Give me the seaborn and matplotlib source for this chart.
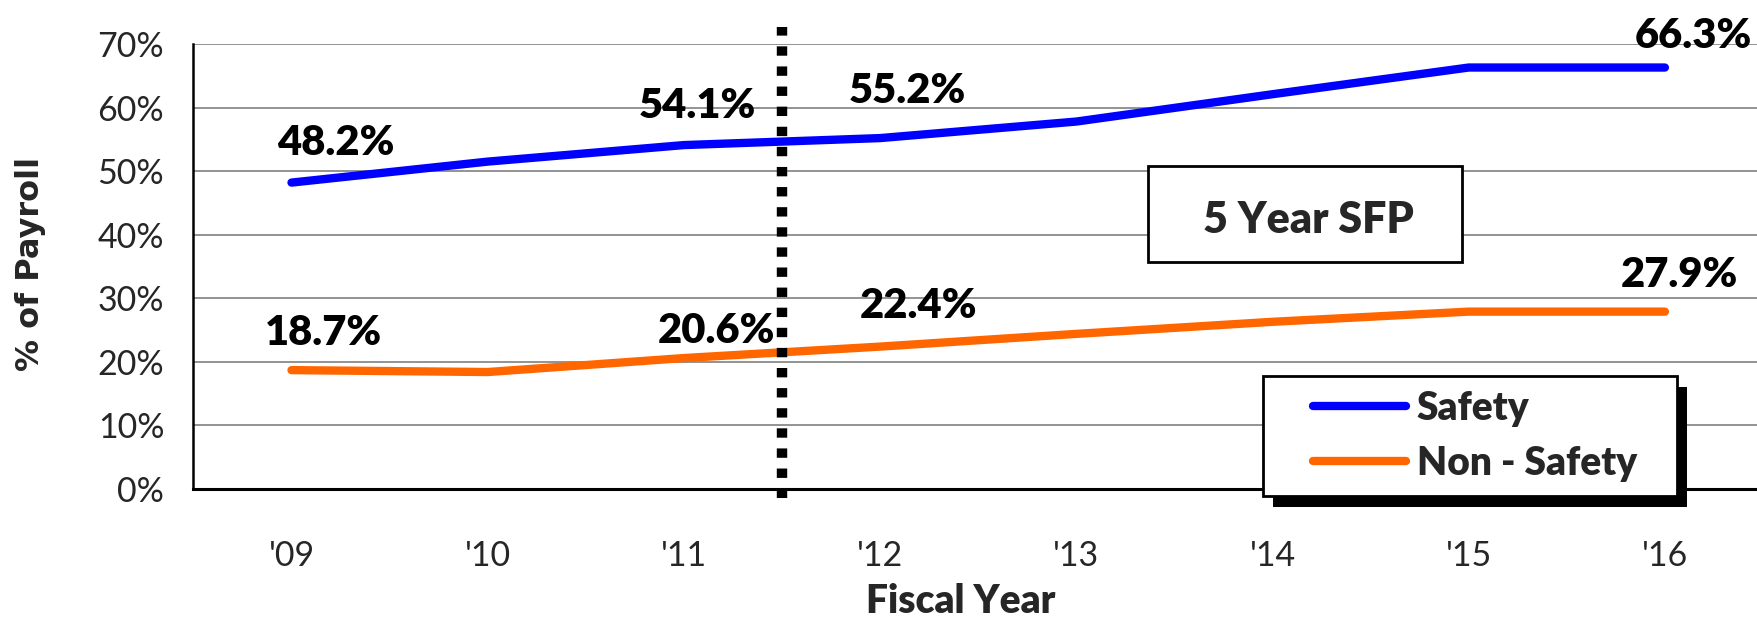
import matplotlib
matplotlib.use("Agg")
import matplotlib.pyplot as plt
from matplotlib.patches import Rectangle
import numpy as np
import pandas as pd
import seaborn as sns

# ---- data -------------------------------------------------------------
years = ["'09", "'10", "'11", "'12", "'13", "'14", "'15", "'16"]
safety = [48.2, 51.5, 54.1, 55.2, 57.8, 62.1, 66.3, 66.3]
non_safety = [18.7, 18.4, 20.6, 22.4, 24.4, 26.3, 27.9, 27.9]
y_ticks = [0, 10, 20, 30, 40, 50, 60, 70]
series_names = ["Safety", "Non - Safety"]
series_colors = ["#0000FF", "#FF6600"]
sfp_start_after = "'11"          # the 5 year SFP window starts after this year
box_text = "5 Year SFP"

# value labels: year -> (dx, dy) offset in pixels from the point
label_offsets = {
    "Safety": {"'09": (44, 28), "'11": (13, 27), "'12": (27, 35), "'16": (28, 20)},
    "Non - Safety": {"'09": (32, 25), "'11": (33, 15), "'12": (38, 29), "'16": (14, 25)},
}

# ---- figure -----------------------------------------------------------
W, H = 1758, 623
sns.set_style("white")
plt.rcParams["font.family"] = ["Lato", "DejaVu Sans"]
HEAVY = "heavy"

fig = plt.figure(figsize=(W / 100, H / 100), dpi=100)
ax = fig.add_axes([193.4 / W, 1 - 489 / H, (1763 - 193.4) / W, 445 / H])


def fx(px):
    return px / W


def fy(py):
    return 1 - py / H


df = pd.DataFrame({"pos": np.arange(len(years)), "Safety": safety, "Non - Safety": non_safety})

for name, color in zip(series_names, series_colors):
    sns.lineplot(data=df, x="pos", y=name, color=color, lw=6.0, label=name,
                 solid_capstyle="round", ax=ax, zorder=3)
    for yr, (dx, dy) in label_offsets[name].items():
        i = years.index(yr)
        v = df[name].iloc[i]
        ax.annotate(f"{v:.1f}%", xy=(i, v), xytext=(dx, dy), textcoords="offset pixels",
                    ha="center", va="baseline", fontsize=30, fontweight=HEAVY,
                    color="black", zorder=5)

# axes styling
ax.set_xlim(-0.5, len(years) - 0.5)
ax.set_ylim(y_ticks[0], y_ticks[-1])
ax.set_yticks(y_ticks, labels=[f"{t}%" for t in y_ticks])
ax.set_xticks(np.arange(len(years)), labels=years)
ax.set_xticks(np.arange(len(years) + 1) - 0.5, minor=True)
ax.tick_params(axis="x", which="major", length=0, pad=37, labelsize=24.5)
ax.tick_params(axis="x", which="minor", length=11, width=1.8, direction="out", color="black")
ax.tick_params(axis="y", which="major", length=7, width=1.8, direction="out", color="black",
               pad=14, labelsize=24.5)
ax.yaxis.grid(True, color="#808080", lw=1.2)
ax.xaxis.grid(False)
ax.set_axisbelow(True)
for side in ("top", "right"):
    ax.spines[side].set_visible(False)
ax.spines["left"].set_linewidth(1.8)
ax.spines["left"].set_color("black")
ax.spines["bottom"].set_linewidth(2.2)
ax.spines["bottom"].set_color("black")

ax.set_xlabel("Fiscal Year", fontsize=28, fontweight=HEAVY)
ax.xaxis.label.set_va("baseline")
ax.xaxis.set_label_coords((961 - 193.4) / 1569.6, -(613 - 489) / 445)
ax.set_ylabel("% of Payroll", fontsize=23, fontweight="bold", family="DejaVu Sans")
ax.yaxis.label.set_va("center")
ax.yaxis.set_label_coords((31 - 193.4) / 1569.6, (489 - 264) / 445)

# dotted divider marking the start of the SFP window
divider = years.index(sfp_start_after) + 0.5
ax.axvline(divider, ymin=-(498 - 489) / 445, ymax=(489 - 27) / 445, color="black",
           lw=7.5, linestyle=(0, (0.9, 1.03)), dash_capstyle="butt", clip_on=False, zorder=6)

# "5 Year SFP" box
ax.add_patch(Rectangle((fx(1148), fy(262)), 314 / W, 96 / H, transform=fig.transFigure,
                       facecolor="white", edgecolor="black", lw=2, zorder=4, clip_on=False))
ax.text(fx(1308.5), fy(233), box_text, transform=fig.transFigure, ha="center", va="baseline",
        fontsize=31, fontweight=HEAVY, zorder=5)

# legend with a solid drop shadow
ax.add_patch(Rectangle((fx(1273), fy(507)), 414 / W, 120 / H, transform=fig.transFigure,
                       facecolor="black", edgecolor="none", zorder=6, clip_on=False))
ax.add_patch(Rectangle((fx(1263), fy(496)), 414 / W, 120 / H, transform=fig.transFigure,
                       facecolor="white", edgecolor="black", lw=2, zorder=6.5, clip_on=False))
leg = ax.legend(loc="upper left", bbox_to_anchor=(fx(1313), fy(390)), bbox_transform=fig.transFigure,
                frameon=False, borderpad=0, borderaxespad=0, handlelength=93 / 39,
                handletextpad=11 / 39, labelspacing=0.45,
                prop={"family": "Lato", "weight": HEAVY, "size": 28})
leg.set_zorder(7)

fig.savefig("out.png", dpi=100)
